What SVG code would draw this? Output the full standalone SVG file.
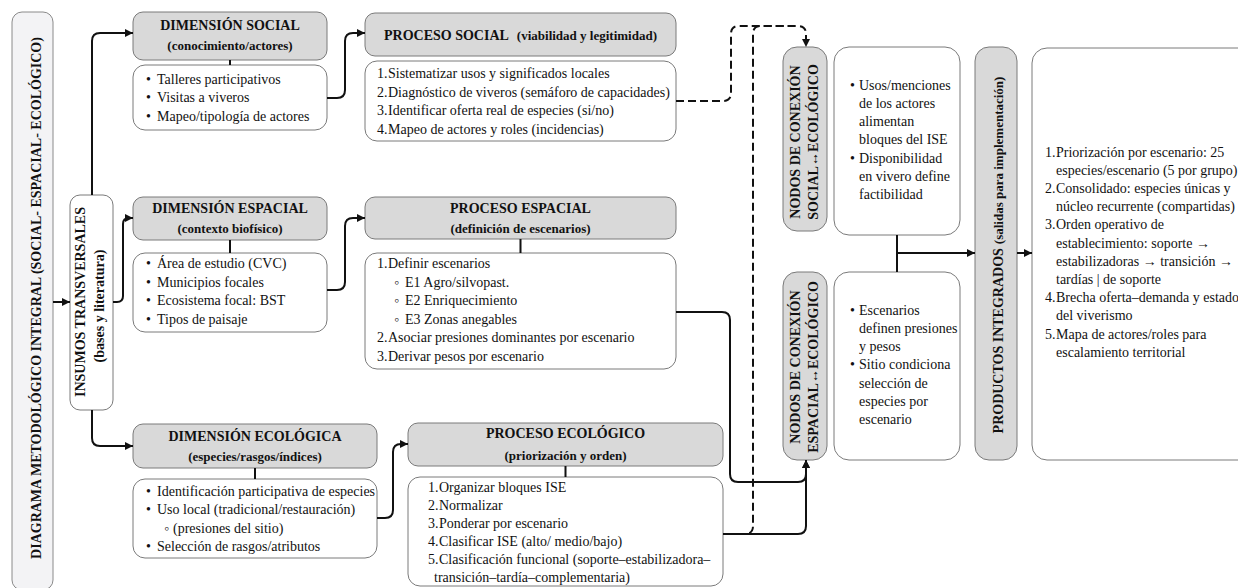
<svg xmlns="http://www.w3.org/2000/svg" width="1238" height="588" viewBox="0 0 1238 588" font-family="'Liberation Serif', 'Times New Roman', 'DejaVu Serif', serif">
<defs>
<style>
text, tspan {font-family:'Liberation Serif','Times New Roman','DejaVu Serif',serif;}
text{fill:#111;}
.h{font-size:14px;font-weight:bold;}
.s{font-size:13px;font-weight:bold;}
.t{font-size:14px;}
.hdr{fill:#d9d9d9;stroke:#7a7a7a;stroke-width:1;}
.box{fill:#fff;stroke:#7a7a7a;stroke-width:1;}
.main{fill:#f3f3f5;stroke:#8a8a8a;stroke-width:1;}
.c{fill:none;stroke:#111;stroke-width:2;}
.d{fill:none;stroke:#111;stroke-width:2;stroke-dasharray:8 4;}
</style>
<marker id="ar" viewBox="0 0 8 8" refX="8" refY="4" markerWidth="8" markerHeight="8" markerUnits="userSpaceOnUse" orient="auto">
<path d="M0,0 L8,4 L0,8 z" fill="#111"/>
</marker>
</defs>
<rect width="1238" height="588" fill="#fff"/>

<g id="main-title">
<rect class="main" x="12" y="12" width="41" height="578" rx="10"/>
<text class="h" text-anchor="middle" transform="translate(40.5,298) rotate(-90)">DIAGRAMA METODOLÓGICO INTEGRAL (SOCIAL- ESPACIAL- ECOLÓGICO)</text>
</g>

<g id="insumos">
<rect class="box" x="70" y="195" width="43" height="215" rx="10"/>
<text class="h" text-anchor="middle" transform="translate(85,302) rotate(-90)">INSUMOS TRANSVERSALES</text>
<text class="h" text-anchor="middle" transform="translate(103.5,306) rotate(-90)">(bases y literatura)</text>
</g>

<g id="dim-social">
<rect class="hdr" x="133" y="12" width="194" height="48" rx="10"/>
<text class="h" x="230" y="30" text-anchor="middle">DIMENSIÓN SOCIAL</text>
<text class="s" x="230" y="49.5" text-anchor="middle">(conocimiento/actores)</text>
<rect class="box" x="133" y="65" width="194" height="65" rx="12"/>
<text class="t"><tspan x="146" y="83.5">•</tspan><tspan x="157">Talleres participativos</tspan><tspan x="146" y="102">•</tspan><tspan x="157">Visitas a viveros</tspan><tspan x="146" y="120.5">•</tspan><tspan x="157">Mapeo/tipología de actores</tspan></text>
</g>

<g id="dim-espacial">
<rect class="hdr" x="133" y="197" width="194" height="43" rx="10"/>
<text class="h" x="230" y="213" text-anchor="middle">DIMENSIÓN ESPACIAL</text>
<text class="s" x="230" y="232.5" text-anchor="middle">(contexto biofísico)</text>
<rect class="box" x="133" y="253" width="194" height="79" rx="12"/>
<text class="t"><tspan x="146" y="268">•</tspan><tspan x="157">Área de estudio (CVC)</tspan><tspan x="146" y="286.5">•</tspan><tspan x="157">Municipios focales</tspan><tspan x="146" y="305">•</tspan><tspan x="157">Ecosistema focal: BST</tspan><tspan x="146" y="323.5">•</tspan><tspan x="157">Tipos de paisaje</tspan></text>
</g>

<g id="dim-ecologica">
<rect class="hdr" x="133" y="424" width="244" height="44" rx="10"/>
<text class="h" x="255" y="441" text-anchor="middle">DIMENSIÓN ECOLÓGICA</text>
<text class="s" x="255" y="460.5" text-anchor="middle">(especies/rasgos/índices)</text>
<rect class="box" x="133" y="479" width="244" height="79" rx="12"/>
<text class="t"><tspan x="146" y="495.5">•</tspan><tspan x="157">Identificación participativa de especies</tspan><tspan x="146" y="514">•</tspan><tspan x="157">Uso local (tradicional/restauración)</tspan><tspan x="164" y="532.5">◦</tspan><tspan x="173">(presiones del sitio)</tspan><tspan x="146" y="551">•</tspan><tspan x="157">Selección de rasgos/atributos</tspan></text>
</g>

<g id="proc-social">
<rect class="hdr" x="365" y="13" width="311" height="43" rx="10"/>
<text x="520.5" y="39.5" text-anchor="middle"><tspan class="h">PROCESO SOCIAL</tspan><tspan class="s" dx="8">(viabilidad y legitimidad)</tspan></text>
<rect class="box" x="365" y="61" width="311" height="80" rx="12"/>
<text class="t"><tspan x="377" y="78">1.</tspan><tspan x="388">Sistematizar usos y significados locales</tspan><tspan x="377" y="96.5">2.</tspan><tspan x="388">Diagnóstico de viveros (semáforo de capacidades)</tspan><tspan x="377" y="115">3.</tspan><tspan x="388">Identificar oferta real de especies (si/no)</tspan><tspan x="377" y="133.5">4.</tspan><tspan x="388">Mapeo de actores y roles (incidencias)</tspan></text>
</g>

<g id="proc-espacial">
<rect class="hdr" x="365" y="197" width="311" height="42" rx="10"/>
<text class="h" x="520.5" y="213" text-anchor="middle">PROCESO ESPACIAL</text>
<text class="s" x="520.5" y="232.5" text-anchor="middle">(definición de escenarios)</text>
<rect class="box" x="365" y="253" width="311" height="116" rx="12"/>
<text class="t"><tspan x="377" y="268">1.</tspan><tspan x="388">Definir escenarios</tspan><tspan x="394" y="286.5">◦</tspan><tspan x="405">E1 Agro/silvopast.</tspan><tspan x="394" y="305">◦</tspan><tspan x="405">E2 Enriquecimiento</tspan><tspan x="394" y="323.5">◦</tspan><tspan x="405">E3 Zonas anegables</tspan><tspan x="377" y="342">2.</tspan><tspan x="388">Asociar presiones dominantes por escenario</tspan><tspan x="377" y="360.5">3.</tspan><tspan x="388">Derivar pesos por escenario</tspan></text>
</g>

<g id="proc-ecologico">
<rect class="hdr" x="408" y="423" width="315" height="43" rx="10"/>
<text class="h" x="565.5" y="438" text-anchor="middle">PROCESO ECOLÓGICO</text>
<text class="s" x="565.5" y="459.5" text-anchor="middle">(priorización y orden)</text>
<rect class="box" x="408" y="477" width="315" height="109" rx="12"/>
<text class="t"><tspan x="428" y="491.5">1.</tspan><tspan x="439">Organizar bloques ISE</tspan><tspan x="428" y="509.5">2.</tspan><tspan x="439">Normalizar</tspan><tspan x="428" y="527.5">3.</tspan><tspan x="439">Ponderar por escenario</tspan><tspan x="428" y="546">4.</tspan><tspan x="439">Clasificar ISE (alto/ medio/bajo)</tspan><tspan x="428" y="564">5.</tspan><tspan x="439">Clasificación funcional (soporte–estabilizadora–</tspan><tspan x="434" y="582">transición–tardía–complementaria)</tspan></text>
</g>

<g id="nodo-social">
<rect class="hdr" x="783" y="47" width="44" height="184" rx="14"/>
<text class="h" text-anchor="middle" transform="translate(800,142) rotate(-90)">NODOS DE CONEXIÓN</text>
<text class="h" text-anchor="middle" transform="translate(818,142) rotate(-90)">SOCIAL↔ECOLÓGICO</text>
<rect class="box" x="834" y="47" width="126" height="188" rx="15"/>
<text class="t"><tspan x="850" y="89.5">•</tspan><tspan x="859">Usos/menciones</tspan><tspan x="859" y="107.8">de los actores</tspan><tspan x="859" y="126.1">alimentan</tspan><tspan x="859" y="144.4">bloques del ISE</tspan><tspan x="850" y="162.7">•</tspan><tspan x="859">Disponibilidad</tspan><tspan x="859" y="181">en vivero define</tspan><tspan x="859" y="199.3">factibilidad</tspan></text>
</g>

<g id="nodo-espacial">
<rect class="hdr" x="783" y="272" width="44" height="188" rx="14"/>
<text class="h" text-anchor="middle" transform="translate(800,367) rotate(-90)">NODOS DE CONEXIÓN</text>
<text class="h" text-anchor="middle" transform="translate(818,367) rotate(-90)">ESPACIAL↔ECOLÓGICO</text>
<rect class="box" x="834" y="272" width="126" height="188" rx="15"/>
<text class="t"><tspan x="850" y="314.5">•</tspan><tspan x="859">Escenarios</tspan><tspan x="859" y="332.8">definen presiones</tspan><tspan x="859" y="351.1">y pesos</tspan><tspan x="850" y="369.4">•</tspan><tspan x="859">Sitio condiciona</tspan><tspan x="859" y="387.7">selección de</tspan><tspan x="859" y="406">especies por</tspan><tspan x="859" y="424.3">escenario</tspan></text>
</g>

<g id="productos">
<rect class="hdr" x="975" y="47" width="42" height="413" rx="14"/>
<text text-anchor="middle" transform="translate(1003,255) rotate(-90)"><tspan class="h">PRODUCTOS INTEGRADOS</tspan><tspan class="s" dx="4">(salidas para implementación)</tspan></text>
<rect class="box" x="1032" y="48" width="230" height="412" rx="15"/>
<text class="t"><tspan x="1045" y="156.5">1.</tspan><tspan x="1056">Priorización por escenario: 25</tspan><tspan x="1056" y="174.7">especies/escenario (5 por grupo)</tspan><tspan x="1045" y="192.9">2.</tspan><tspan x="1056">Consolidado: especies únicas y</tspan><tspan x="1056" y="211.1">núcleo recurrente (compartidas)</tspan><tspan x="1045" y="229.3">3.</tspan><tspan x="1056">Orden operativo de</tspan><tspan x="1056" y="247.5">establecimiento: soporte →</tspan><tspan x="1056" y="265.7">estabilizadoras → transición →</tspan><tspan x="1056" y="283.9">tardías | de soporte</tspan><tspan x="1045" y="302.1">4.</tspan><tspan x="1056">Brecha oferta–demanda y estado</tspan><tspan x="1056" y="320.3">del viverismo</tspan><tspan x="1045" y="338.5">5.</tspan><tspan x="1056">Mapa de actores/roles para</tspan><tspan x="1056" y="356.7">escalamiento territorial</tspan></text>
</g>

<g id="connectors">
<path class="c" d="M53,302 H70" marker-end="url(#ar)"/>
<path class="c" d="M92,195 V41 Q92,33 100,33 H133" marker-end="url(#ar)"/>
<path class="c" d="M113,302 H117 Q123,302 123,296 V224 Q123,218 129,218 H133" marker-end="url(#ar)"/>
<path class="c" d="M92,410 V438 Q92,446 100,446 H133" marker-end="url(#ar)"/>
<path class="c" d="M230,60 V65 M230,240 V253 M255,468 V479 M520.5,239 V253 M565.5,466 V477"/>
<path class="c" d="M327,98 H337 Q345,98 345,90 V41 Q345,33 353,33 H365" marker-end="url(#ar)"/>
<path class="c" d="M327,290 H337 Q345,290 345,282 V226 Q345,218 353,218 H365" marker-end="url(#ar)"/>
<path class="c" d="M377,518 H385 Q393,518 393,510 V452 Q393,444 401,444 H408" marker-end="url(#ar)"/>
<path class="d" d="M676,101 H723 Q731,101 731,93 V34 Q731,26 739,26 H798 Q806,26 806,34 V47" marker-end="url(#ar)"/>
<path class="d" d="M737,534 H745 Q753,534 753,526 V34 Q753,26 761,26 H790"/>
<path class="c" d="M676,312 H722 Q730,312 730,320 V474 Q730,482 738,482 H798 Q806,482 806,474 V460" marker-end="url(#ar)"/>
<path class="c" d="M723,534 H798 Q806,534 806,526 V460" marker-end="url(#ar)"/>
<path class="c" d="M897,235 V272 M897,253 H975" marker-end="url(#ar)"/>
<path class="c" d="M1017,253 H1032" marker-end="url(#ar)"/>
</g>
</svg>
